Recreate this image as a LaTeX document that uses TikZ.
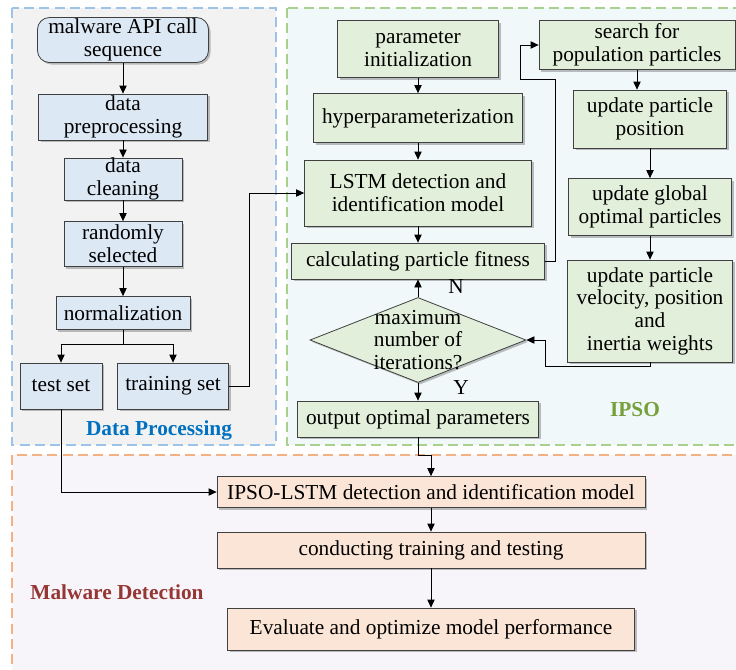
\documentclass[tikz,border=0pt]{standalone}
\usepackage{fontspec}
\setmainfont{Liberation Serif}
\usetikzlibrary{arrows.meta,shapes.geometric,shadows}

\definecolor{dpframe}{RGB}{157,195,230}
\definecolor{dpback}{RGB}{242,242,242}
\definecolor{dpbox}{RGB}{221,232,245}
\definecolor{dptext}{RGB}{0,112,192}
\definecolor{ipframe}{RGB}{169,209,142}
\definecolor{ipback}{RGB}{240,248,250}
\definecolor{ipbox}{RGB}{226,239,218}
\definecolor{iptext}{RGB}{118,160,60}
\definecolor{mdframe}{RGB}{244,177,131}
\definecolor{mdback}{RGB}{247,245,250}
\definecolor{mdbox}{RGB}{251,229,214}
\definecolor{mdtext}{RGB}{149,55,53}
\definecolor{edge}{RGB}{64,64,64}

\tikzset{every picture/.style={line width=0.75pt}}
\tikzset{
  box/.style={draw=edge, line width=0.6pt, align=center, inner sep=0pt,
    font=\fontsize{16}{17}\selectfont,
    drop shadow={shadow xshift=1.5pt, shadow yshift=-1.5pt, opacity=0.35, fill=black!70}},
  bluebox/.style={box, fill=dpbox},
  greenbox/.style={box, fill=ipbox},
  orangebox/.style={box, fill=mdbox},
  decision/.style={greenbox, diamond, minimum width=162pt, minimum height=63.75pt},
  link/.style={-{Triangle[length=6pt,width=5.5pt]}, line width=0.6pt},
  frame/.style={dash pattern=on 7.5pt off 4pt, line width=1.1pt},
  tag/.style={inner sep=0.75pt, font=\fontsize{16}{17}\selectfont},
  title/.style={inner sep=0.75pt, font=\fontsize{16}{17}\selectfont\bfseries},
}

\begin{document}
\begin{tikzpicture}[x=0.75pt,y=0.75pt,yscale=-1,xscale=1]
\useasboundingbox (0,0) rectangle (736,669);

%Shape: Rectangle [id:dataprocessing]
\draw [frame, draw=dpframe, fill=dpback] (12,8) rectangle (276,445);
%Shape: Rectangle [id:ipso]
\draw [frame, draw=ipframe, fill=ipback] (287,8) rectangle (745,445);
%Shape: Rectangle [id:malwaredetection]
\draw [frame, draw=mdframe, fill=mdback] (12,455) rectangle (745,680);

% Data processing column
\node [bluebox, rounded corners=9pt, minimum width=128.25pt, minimum height=33.75pt] (api) at (123,40) {malware API call\\sequence};
\node [bluebox, minimum width=126.75pt, minimum height=34.5pt] (prep) at (123,117) {data\\preprocessing};
\node [bluebox, minimum width=88.5pt, minimum height=31.5pt] (clean) at (123,179) {data\\cleaning};
\node [bluebox, minimum width=88.5pt, minimum height=33.75pt] (rand) at (123,244) {randomly\\selected};
\node [bluebox, minimum width=100.5pt, minimum height=24.75pt] (norm) at (123,313) {normalization};
\node [bluebox, minimum width=61.5pt, minimum height=34.5pt] (test) at (61,386) {test set};
\node [bluebox, minimum width=83.25pt, minimum height=34.5pt] (train) at (173,386) {training set};

% IPSO column
\node [greenbox, minimum width=120.75pt, minimum height=42.75pt] (init) at (418,49) {parameter\\initialization};
\node [greenbox, minimum width=156.75pt, minimum height=36.75pt] (hyper) at (418,118) {hyperparameterization};
\node [greenbox, minimum width=170.25pt, minimum height=49.5pt] (lstm) at (418,193) {LSTM detection and\\identification model};
\node [greenbox, minimum width=189.75pt, minimum height=27pt] (fit) at (418,261) {calculating particle fitness};
\node [decision, label={[tag, align=center]center:maximum\\number of\\iterations?}] (dia) at (418,340) {};
\node [greenbox, minimum width=180.75pt, minimum height=27pt] (out) at (418,419) {output optimal parameters};
\node [greenbox, minimum width=147pt, minimum height=36.75pt] (search) at (637,45) {search for\\population particles};
\node [greenbox, minimum width=114.75pt, minimum height=43.5pt] (pos) at (650,119) {update particle\\position};
\node [greenbox, minimum width=122.25pt, minimum height=42.75pt] (glob) at (650,207) {update global\\optimal particles};
\node [greenbox, minimum width=123.75pt, minimum height=76.5pt] (vel) at (650,311) {update particle\\velocity, position\\and\\inertia weights};

% Malware detection column
\node [orangebox, minimum width=321pt, minimum height=23.25pt] (ipsolstm) at (431,492) {IPSO-LSTM detection and identification model};
\node [orangebox, minimum width=321pt, minimum height=27pt] (conduct) at (431,550) {conducting training and testing};
\node [orangebox, minimum width=305.25pt, minimum height=31.5pt] (eval) at (431,629) {Evaluate and optimize model performance};

% Text Node
\node [tag] (nlab) at (456,287) {N};
% Text Node
\node [tag] (ylab) at (461,388) {Y};
% Text Node
\node [title, text=dptext] (dplab) at (159,430) {Data Processing};
% Text Node
\node [title, text=iptext] (iplab) at (635,410) {IPSO};
% Text Node
\node [title, text=mdtext] (mdlab) at (117,592) {Malware Detection};

% Connectors
\draw [link] (api) -- (prep);
\draw [link] (prep) -- (clean);
\draw [link] (clean) -- (rand);
\draw [link] (rand) -- (norm);
\draw [link] (norm.south) -- ++(0,14) -| (test.north);
\draw [link] (norm.south) -- ++(0,14) -| (train.north);
\draw [link] (train.east) -- ++(20,0) |- (lstm.west);
\draw [link] (test.south) |- (ipsolstm.west);
\draw [link] (init) -- (hyper);
\draw [link] (hyper) -- (lstm);
\draw [link] (lstm) -- (fit);
\draw [link] (dia.north) -- (fit.south);
\draw [link] (dia.south) -- (out.north);
\draw [link] (fit.east) -- ++(10,0) -- ++(0,-182) -- ++(-35,0) |- (search.west);
\draw [link] (search.south) -- (search.south |- pos.north);
\draw [link] (pos) -- (glob);
\draw [link] (glob) -- (vel);
\draw [link] (vel.south) -- ++(0,4) -- ++(-105,0) |- (dia.east);
\draw [link] (out.south) -- ++(0,18) -| (ipsolstm.north);
\draw [link] (ipsolstm) -- (conduct);
\draw [link] (conduct) -- (eval);

\end{tikzpicture}
\end{document}
